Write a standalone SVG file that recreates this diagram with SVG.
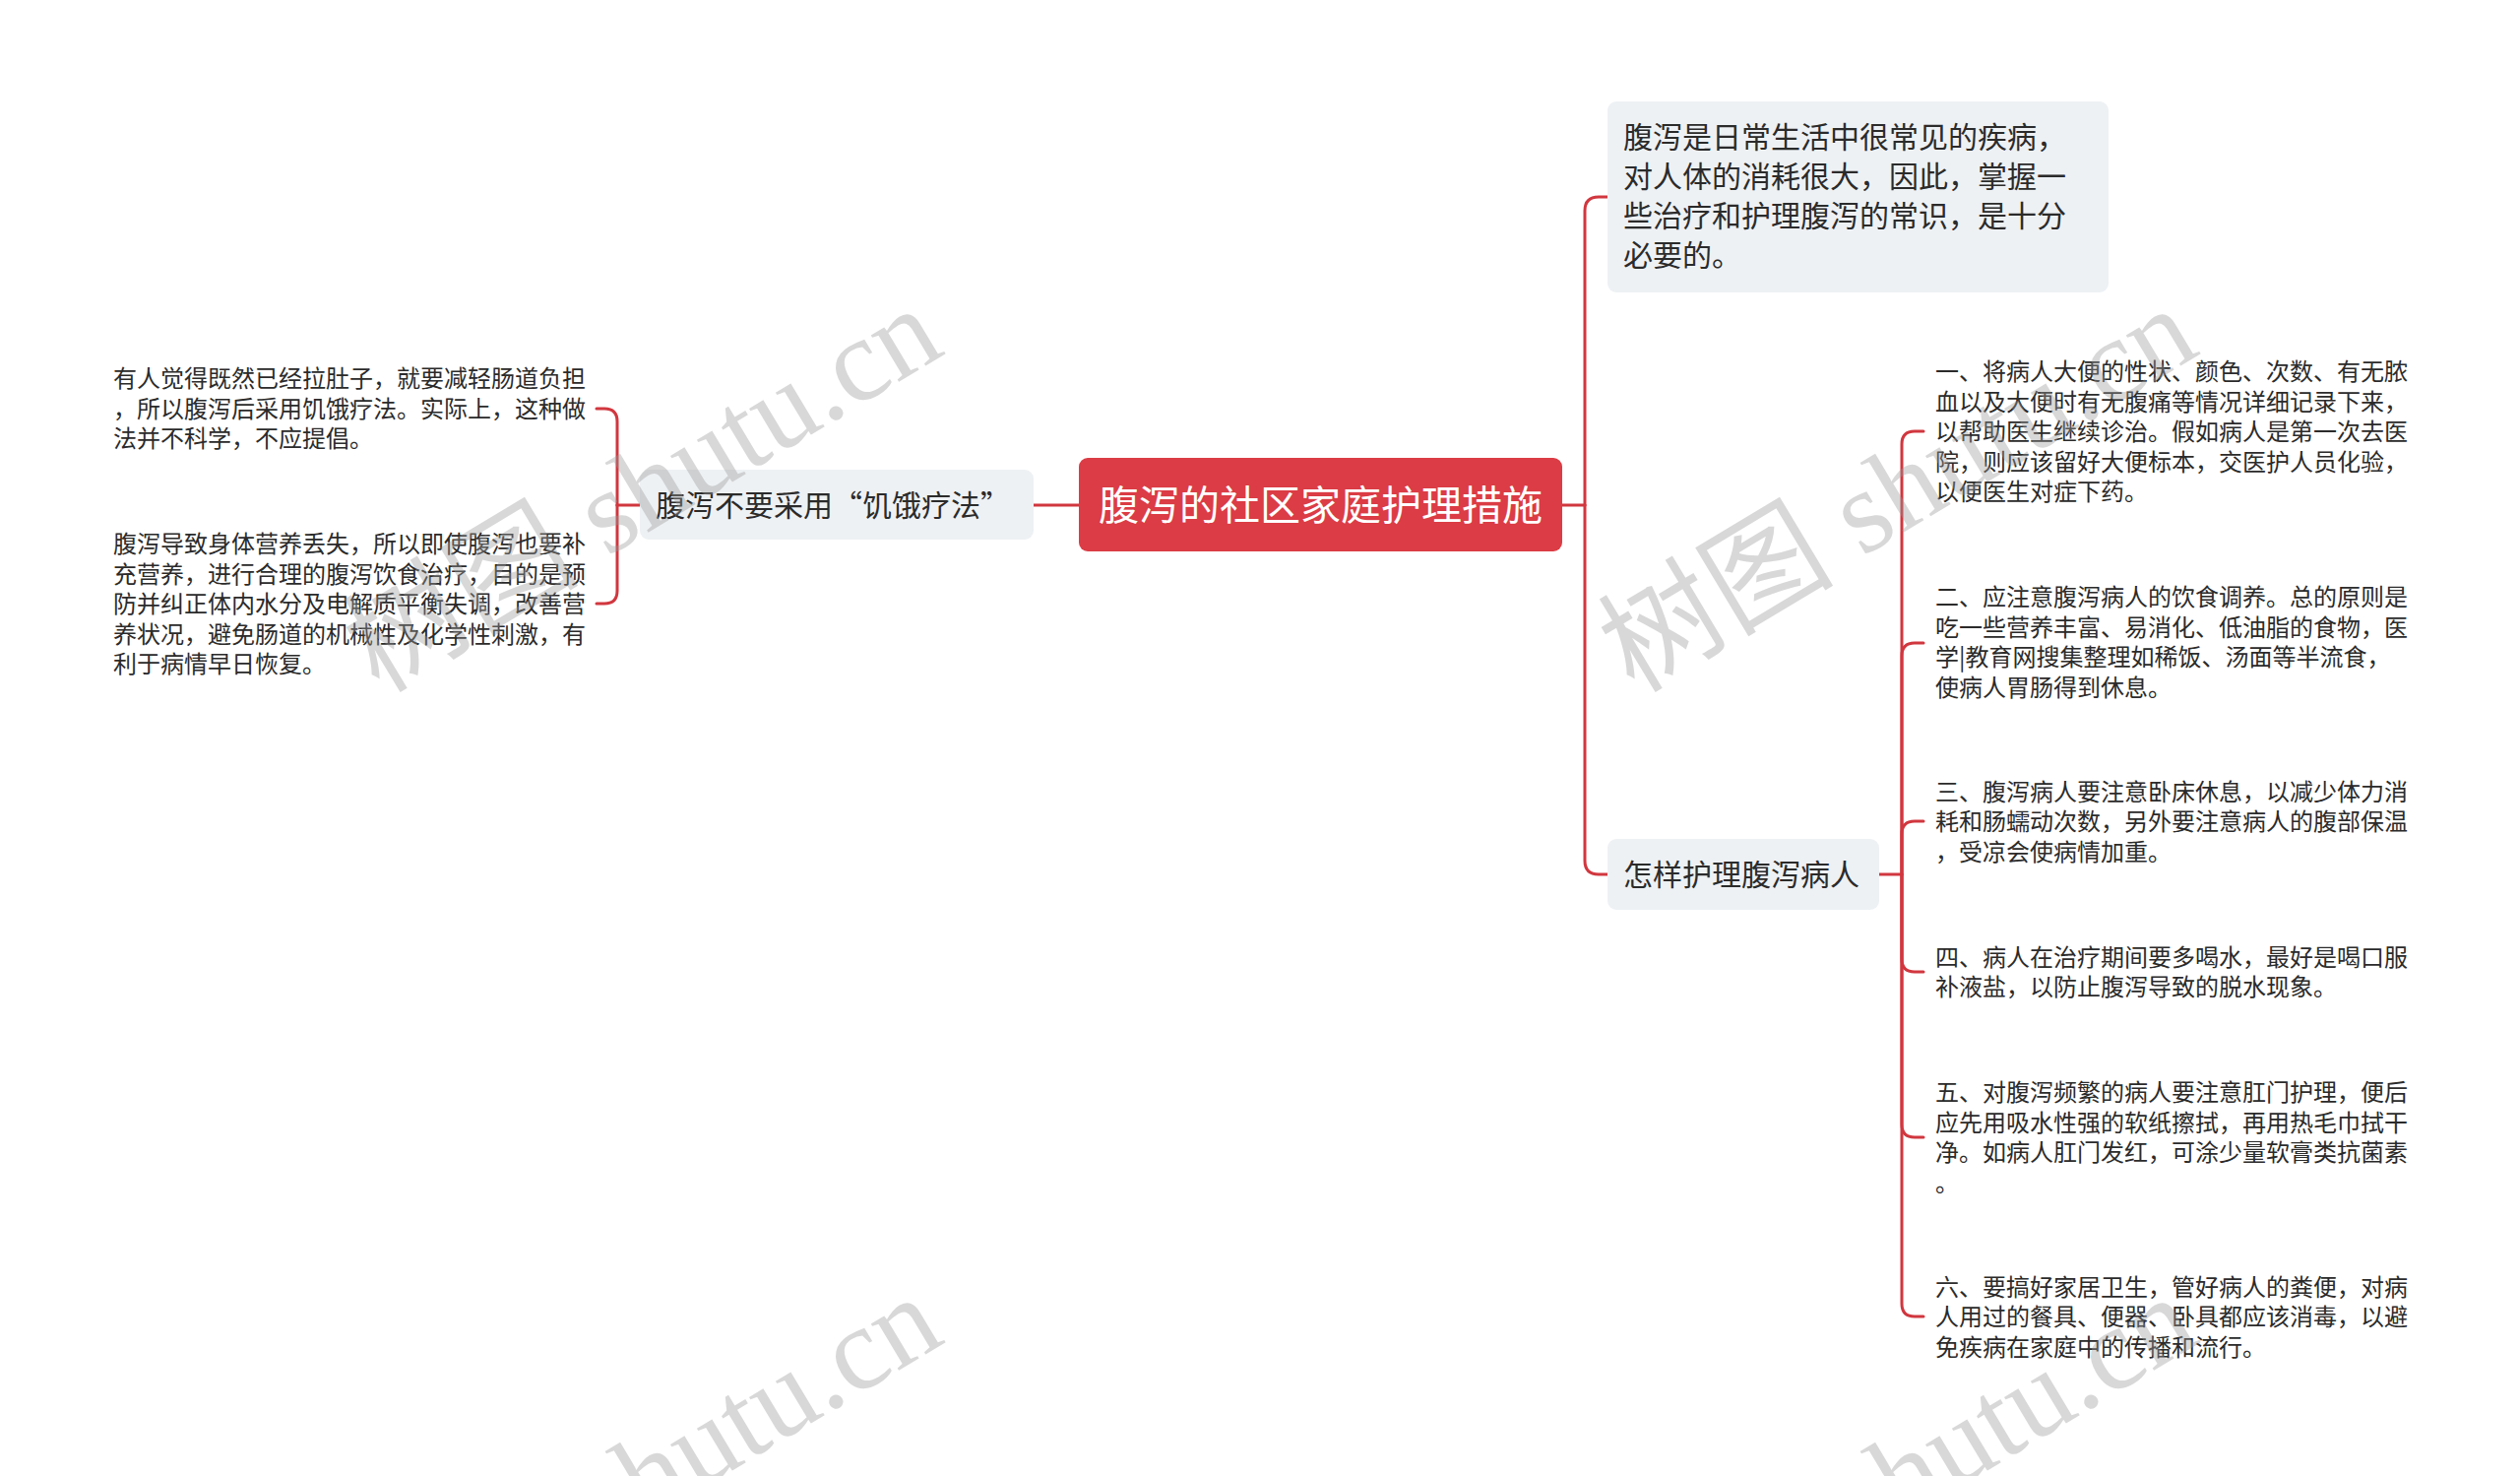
<svg xmlns="http://www.w3.org/2000/svg" width="2560" height="1499" viewBox="0 0 2560 1499">
<style>
.bg{fill:#ffffff}
.conn{fill:none;stroke:#d1373f;stroke-width:3;stroke-linecap:round}
.root{fill:#db3c45}
.sub{fill:#eef1f4}
.t{font-family:"Noto Sans CJK SC","Noto Sans",sans-serif;fill:#2b2b2b}
.rt{font-family:"Noto Sans CJK SC","Noto Sans",sans-serif;fill:#ffffff;font-size:41px}
.s30{font-size:30px}
.s24{font-size:24px}
.wm{font-family:"Liberation Serif","Noto Sans CJK SC",serif;font-size:120px;fill:#9a9a9a;opacity:0.38}
</style>
<rect class="bg" x="0" y="0" width="2560" height="1499"/>
<g id="connectors">
<path class="conn" d="M1587,513 H1610"/>
<path class="conn" d="M1610,513 V214 Q1610,200 1624,200 H1633"/>
<path class="conn" d="M1610,513 V874 Q1610,888 1624,888 H1633"/>
<path class="conn" d="M1096,513 H1050"/>
<path class="conn" d="M650,513 H627"/>
<path class="conn" d="M627,513 V428 Q627,415 614,415 H606"/>
<path class="conn" d="M627,513 V600 Q627,613 614,613 H606"/>
<path class="conn" d="M1909,888 H1932"/>
<path class="conn" d="M1932,888 V451 Q1932,438 1945,438 H1954"/>
<path class="conn" d="M1932,888 V666 Q1932,653 1945,653 H1954"/>
<path class="conn" d="M1932,888 V847 Q1932,834 1945,834 H1954"/>
<path class="conn" d="M1932,888 V974 Q1932,987 1945,987 H1954"/>
<path class="conn" d="M1932,888 V1142 Q1932,1155 1945,1155 H1954"/>
<path class="conn" d="M1932,888 V1324 Q1932,1337 1945,1337 H1954"/>
</g>
<g id="root">
<rect class="root" x="1096" y="465" width="491" height="95" rx="9"/>
<text class="rt" x="1341.5" y="527.5" text-anchor="middle">腹泻的社区家庭护理措施</text>
</g>
<g id="node-intro">
<rect class="sub" x="1633" y="103" width="509" height="194" rx="9"/>
<text class="t s30"><tspan x="1649" y="150">腹泻是日常生活中很常见的疾病，</tspan><tspan x="1649" y="190">对人体的消耗很大，因此，掌握一</tspan><tspan x="1649" y="230">些治疗和护理腹泻的常识，是十分</tspan><tspan x="1649" y="270">必要的。</tspan></text>
</g>
<g id="node-how">
<rect class="sub" x="1633" y="852" width="276" height="72" rx="9"/>
<text class="t s30" x="1649" y="899">怎样护理腹泻病人</text>
</g>
<g id="node-hunger">
<rect class="sub" x="650" y="477" width="400" height="71" rx="9"/>
<text class="t s30" x="666" y="524">腹泻不要采用“饥饿疗法”</text>
</g>
<g id="leaf-l1">
<text class="t s24"><tspan x="115" y="393">有人觉得既然已经拉肚子，就要减轻肠道负担</tspan><tspan x="115" y="423.5">，所以腹泻后采用饥饿疗法。实际上，这种做</tspan><tspan x="115" y="454">法并不科学，不应提倡。</tspan></text>
</g>
<g id="leaf-l2">
<text class="t s24"><tspan x="115" y="561">腹泻导致身体营养丢失，所以即使腹泻也要补</tspan><tspan x="115" y="591.5">充营养，进行合理的腹泻饮食治疗，目的是预</tspan><tspan x="115" y="622">防并纠正体内水分及电解质平衡失调，改善营</tspan><tspan x="115" y="652.5">养状况，避免肠道的机械性及化学性刺激，有</tspan><tspan x="115" y="683">利于病情早日恢复。</tspan></text>
</g>
<g id="leaf-r1">
<text class="t s24"><tspan x="1966" y="386">一、将病人大便的性状、颜色、次数、有无脓</tspan><tspan x="1966" y="416.5">血以及大便时有无腹痛等情况详细记录下来，</tspan><tspan x="1966" y="447">以帮助医生继续诊治。假如病人是第一次去医</tspan><tspan x="1966" y="477.5">院，则应该留好大便标本，交医护人员化验，</tspan><tspan x="1966" y="508">以便医生对症下药。</tspan></text>
</g>
<g id="leaf-r2">
<text class="t s24"><tspan x="1966" y="615">二、应注意腹泻病人的饮食调养。总的原则是</tspan><tspan x="1966" y="645.5">吃一些营养丰富、易消化、低油脂的食物，医</tspan><tspan x="1966" y="676">学|教育网搜集整理如稀饭、汤面等半流食，</tspan><tspan x="1966" y="706.5">使病人胃肠得到休息。</tspan></text>
</g>
<g id="leaf-r3">
<text class="t s24"><tspan x="1966" y="812.5">三、腹泻病人要注意卧床休息，以减少体力消</tspan><tspan x="1966" y="843">耗和肠蠕动次数，另外要注意病人的腹部保温</tspan><tspan x="1966" y="873.5">，受凉会使病情加重。</tspan></text>
</g>
<g id="leaf-r4">
<text class="t s24"><tspan x="1966" y="980.5">四、病人在治疗期间要多喝水，最好是喝口服</tspan><tspan x="1966" y="1011">补液盐，以防止腹泻导致的脱水现象。</tspan></text>
</g>
<g id="leaf-r5">
<text class="t s24"><tspan x="1966" y="1118">五、对腹泻频繁的病人要注意肛门护理，便后</tspan><tspan x="1966" y="1148.5">应先用吸水性强的软纸擦拭，再用热毛巾拭干</tspan><tspan x="1966" y="1179">净。如病人肛门发红，可涂少量软膏类抗菌素</tspan><tspan x="1966" y="1209.5">。</tspan></text>
</g>
<g id="leaf-r6">
<text class="t s24"><tspan x="1966" y="1315.5">六、要搞好家居卫生，管好病人的粪便，对病</tspan><tspan x="1966" y="1346">人用过的餐具、便器、卧具都应该消毒，以避</tspan><tspan x="1966" y="1376.5">免疾病在家庭中的传播和流行。</tspan></text>
</g>
<g id="watermarks">
<text class="wm" transform="translate(385,705) rotate(-31)">树图 shutu.cn</text>
<text class="wm" transform="translate(1660,705) rotate(-31)">树图 shutu.cn</text>
<text class="wm" transform="translate(385,1709) rotate(-31)">树图 shutu.cn</text>
<text class="wm" transform="translate(1660,1709) rotate(-31)">树图 shutu.cn</text>
</g>
</svg>
